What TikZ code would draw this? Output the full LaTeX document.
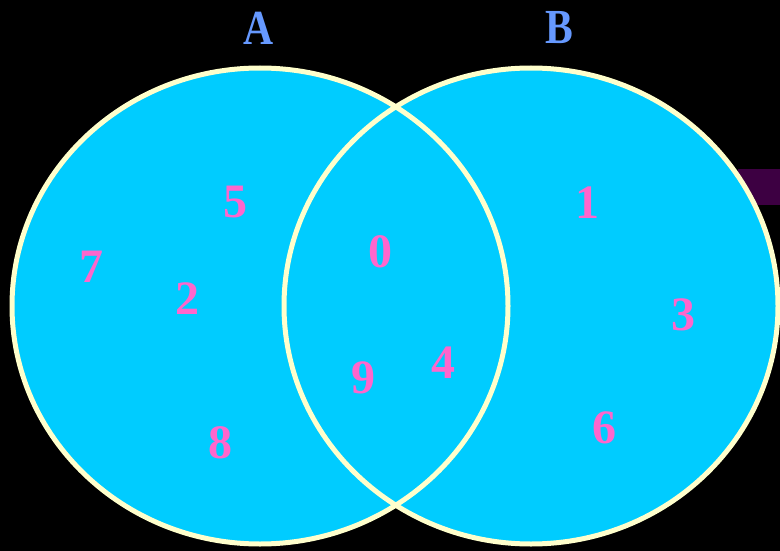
\documentclass[tikz,border=0pt]{standalone}
\usepackage{fontspec}
\setmainfont{Liberation Serif}
\definecolor{bgblack}{HTML}{000000}
\definecolor{setfill}{HTML}{00CCFF}
\definecolor{setline}{HTML}{FFFFCC}
\definecolor{setlabel}{HTML}{6699FF}
\definecolor{elemcol}{HTML}{FF66CC}
\definecolor{darkpurple}{HTML}{3D0042}
\begin{document}
\begin{tikzpicture}[x=1pt,y=-1pt,
  setname/.style={text=setlabel,font=\fontsize{49}{49}\selectfont\bfseries,inner sep=0pt},
  elem/.style={text=elemcol,font=\fontsize{48}{48}\selectfont\bfseries,inner sep=0pt},
  ring/.style={draw=setline,line width=5pt}]
\fill[bgblack] (0,0) rectangle (780,551);
\useasboundingbox (0,0) rectangle (780,551);
\fill[darkpurple] (738,169) rectangle (780,205);
\fill[setfill] (260,306) ellipse [x radius=248, y radius=238];
\fill[setfill] (531,306) ellipse [x radius=247, y radius=238];
\draw[ring] (260,306) ellipse [x radius=248, y radius=238];
\draw[ring] (531,306) ellipse [x radius=247, y radius=238];
\node[setname] (la) at (259,28) {\scalebox{0.85}[1]{A}};
\node[setname] (lb) at (559,28) {\scalebox{0.85}[1]{B}};
\node[elem] (e5) at (235,202) {5};
\node[elem] (e7) at (91,267) {7};
\node[elem] (e2) at (187,299) {2};
\node[elem] (e0) at (380,252) {0};
\node[elem] (e9) at (363,378) {9};
\node[elem] (e4) at (443,363) {4};
\node[elem] (e1) at (587,203) {1};
\node[elem] (e3) at (683,315) {3};
\node[elem] (e6) at (604,428) {6};
\node[elem] (e8) at (220,443) {8};
\end{tikzpicture}
\end{document}
